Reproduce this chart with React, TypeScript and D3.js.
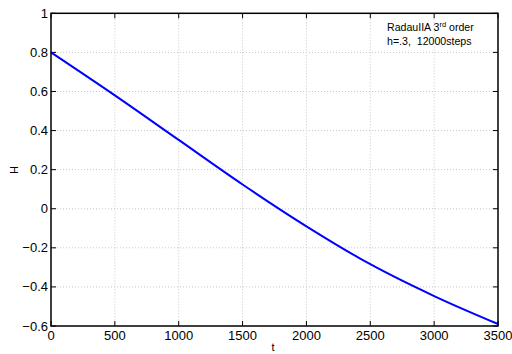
import React from "react";
import * as d3 from "d3";

const tValues = [0, 500, 1000, 1500, 2000, 2500, 3000, 3500];
const hValues = [0.8, 0.58, 0.352, 0.124, -0.09, -0.284, -0.447, -0.59];
const xTicks = [0, 500, 1000, 1500, 2000, 2500, 3000, 3500];
const yTicks = [-0.6, -0.4, -0.2, 0, 0.2, 0.4, 0.6, 0.8, 1];
const annotation = ["RadauIIA 3", "rd", " order"];
const annotation2 = "h=.3,  12000steps";

const W = 512, H = 354;
const M = { left: 51, right: 498, top: 13.3, bottom: 326 };

export default function App() {
  const x = d3.scaleLinear().domain([0, 3500]).range([M.left, M.right]);
  const y = d3.scaleLinear().domain([-0.6, 1]).range([M.bottom, M.top]);
  const pts: [number, number][] = tValues.map((t, i) => [t, hValues[i]]);
  const line = d3.line<[number, number]>().x(d => x(d[0])).y(d => y(d[1])).curve(d3.curveMonotoneX);
  const fmt = (v: number) => {
    const s = Math.abs(v) < 1e-9 ? "0" : String(+v.toFixed(1));
    return s.replace("-", "\u2212");
  };
  const font = "Liberation Sans, Arial, Helvetica, sans-serif";
  return (
    <svg width={W} height={H} style={{ position: "absolute", left: 0, top: 0, background: "#fff" }} fontFamily={font}>
      <rect x={0} y={0} width={W} height={H} fill="#fff" />
      {xTicks.slice(1, -1).map(t => (
        <line key={"gx" + t} x1={x(t)} x2={x(t)} y1={M.top} y2={M.bottom} stroke="#c8c8c8" strokeWidth={1} strokeDasharray="1,2" />
      ))}
      {yTicks.slice(1, -1).map(v => (
        <line key={"gy" + v} x1={M.left} x2={M.right} y1={y(v)} y2={y(v)} stroke="#c8c8c8" strokeWidth={1} strokeDasharray="1,2" />
      ))}
      {xTicks.map(t => (
        <g key={"tx" + t}>
          <line x1={x(t)} x2={x(t)} y1={M.bottom} y2={M.bottom - 5} stroke="#000" />
          <line x1={x(t)} x2={x(t)} y1={M.top} y2={M.top + 5} stroke="#000" />
          <text x={x(t)} y={340} fontSize={13} textAnchor="middle" fill="#000">{t}</text>
        </g>
      ))}
      {yTicks.map(v => (
        <g key={"ty" + v}>
          <line x1={M.left} x2={M.left + 5} y1={y(v)} y2={y(v)} stroke="#000" />
          <line x1={M.right} x2={M.right - 5} y1={y(v)} y2={y(v)} stroke="#000" />
          <text x={48} y={y(v) + 4.5} fontSize={13} textAnchor="end" fill="#000">{fmt(v)}</text>
        </g>
      ))}
      <path d={line(pts) || ""} fill="none" stroke="#0000ff" strokeWidth={2} />
      <rect x={M.left} y={M.top} width={M.right - M.left} height={M.bottom - M.top} fill="none" stroke="#000" strokeWidth={1.5} />
      <text x={387} y={31} fontSize={10.6} fill="#000">
        {annotation[0]}<tspan fontSize={7.5} dy={-4}>{annotation[1]}</tspan><tspan dy={4}>{annotation[2]}</tspan>
      </text>
      <text x={387} y={45} fontSize={10.6} fill="#000" style={{ whiteSpace: "pre" }}>{annotation2}</text>
      <text x={273} y={351} fontSize={11} textAnchor="middle" fill="#000">t</text>
      <text transform="translate(18,170) rotate(-90)" fontSize={11} textAnchor="middle" fill="#000">H</text>
    </svg>
  );
}
